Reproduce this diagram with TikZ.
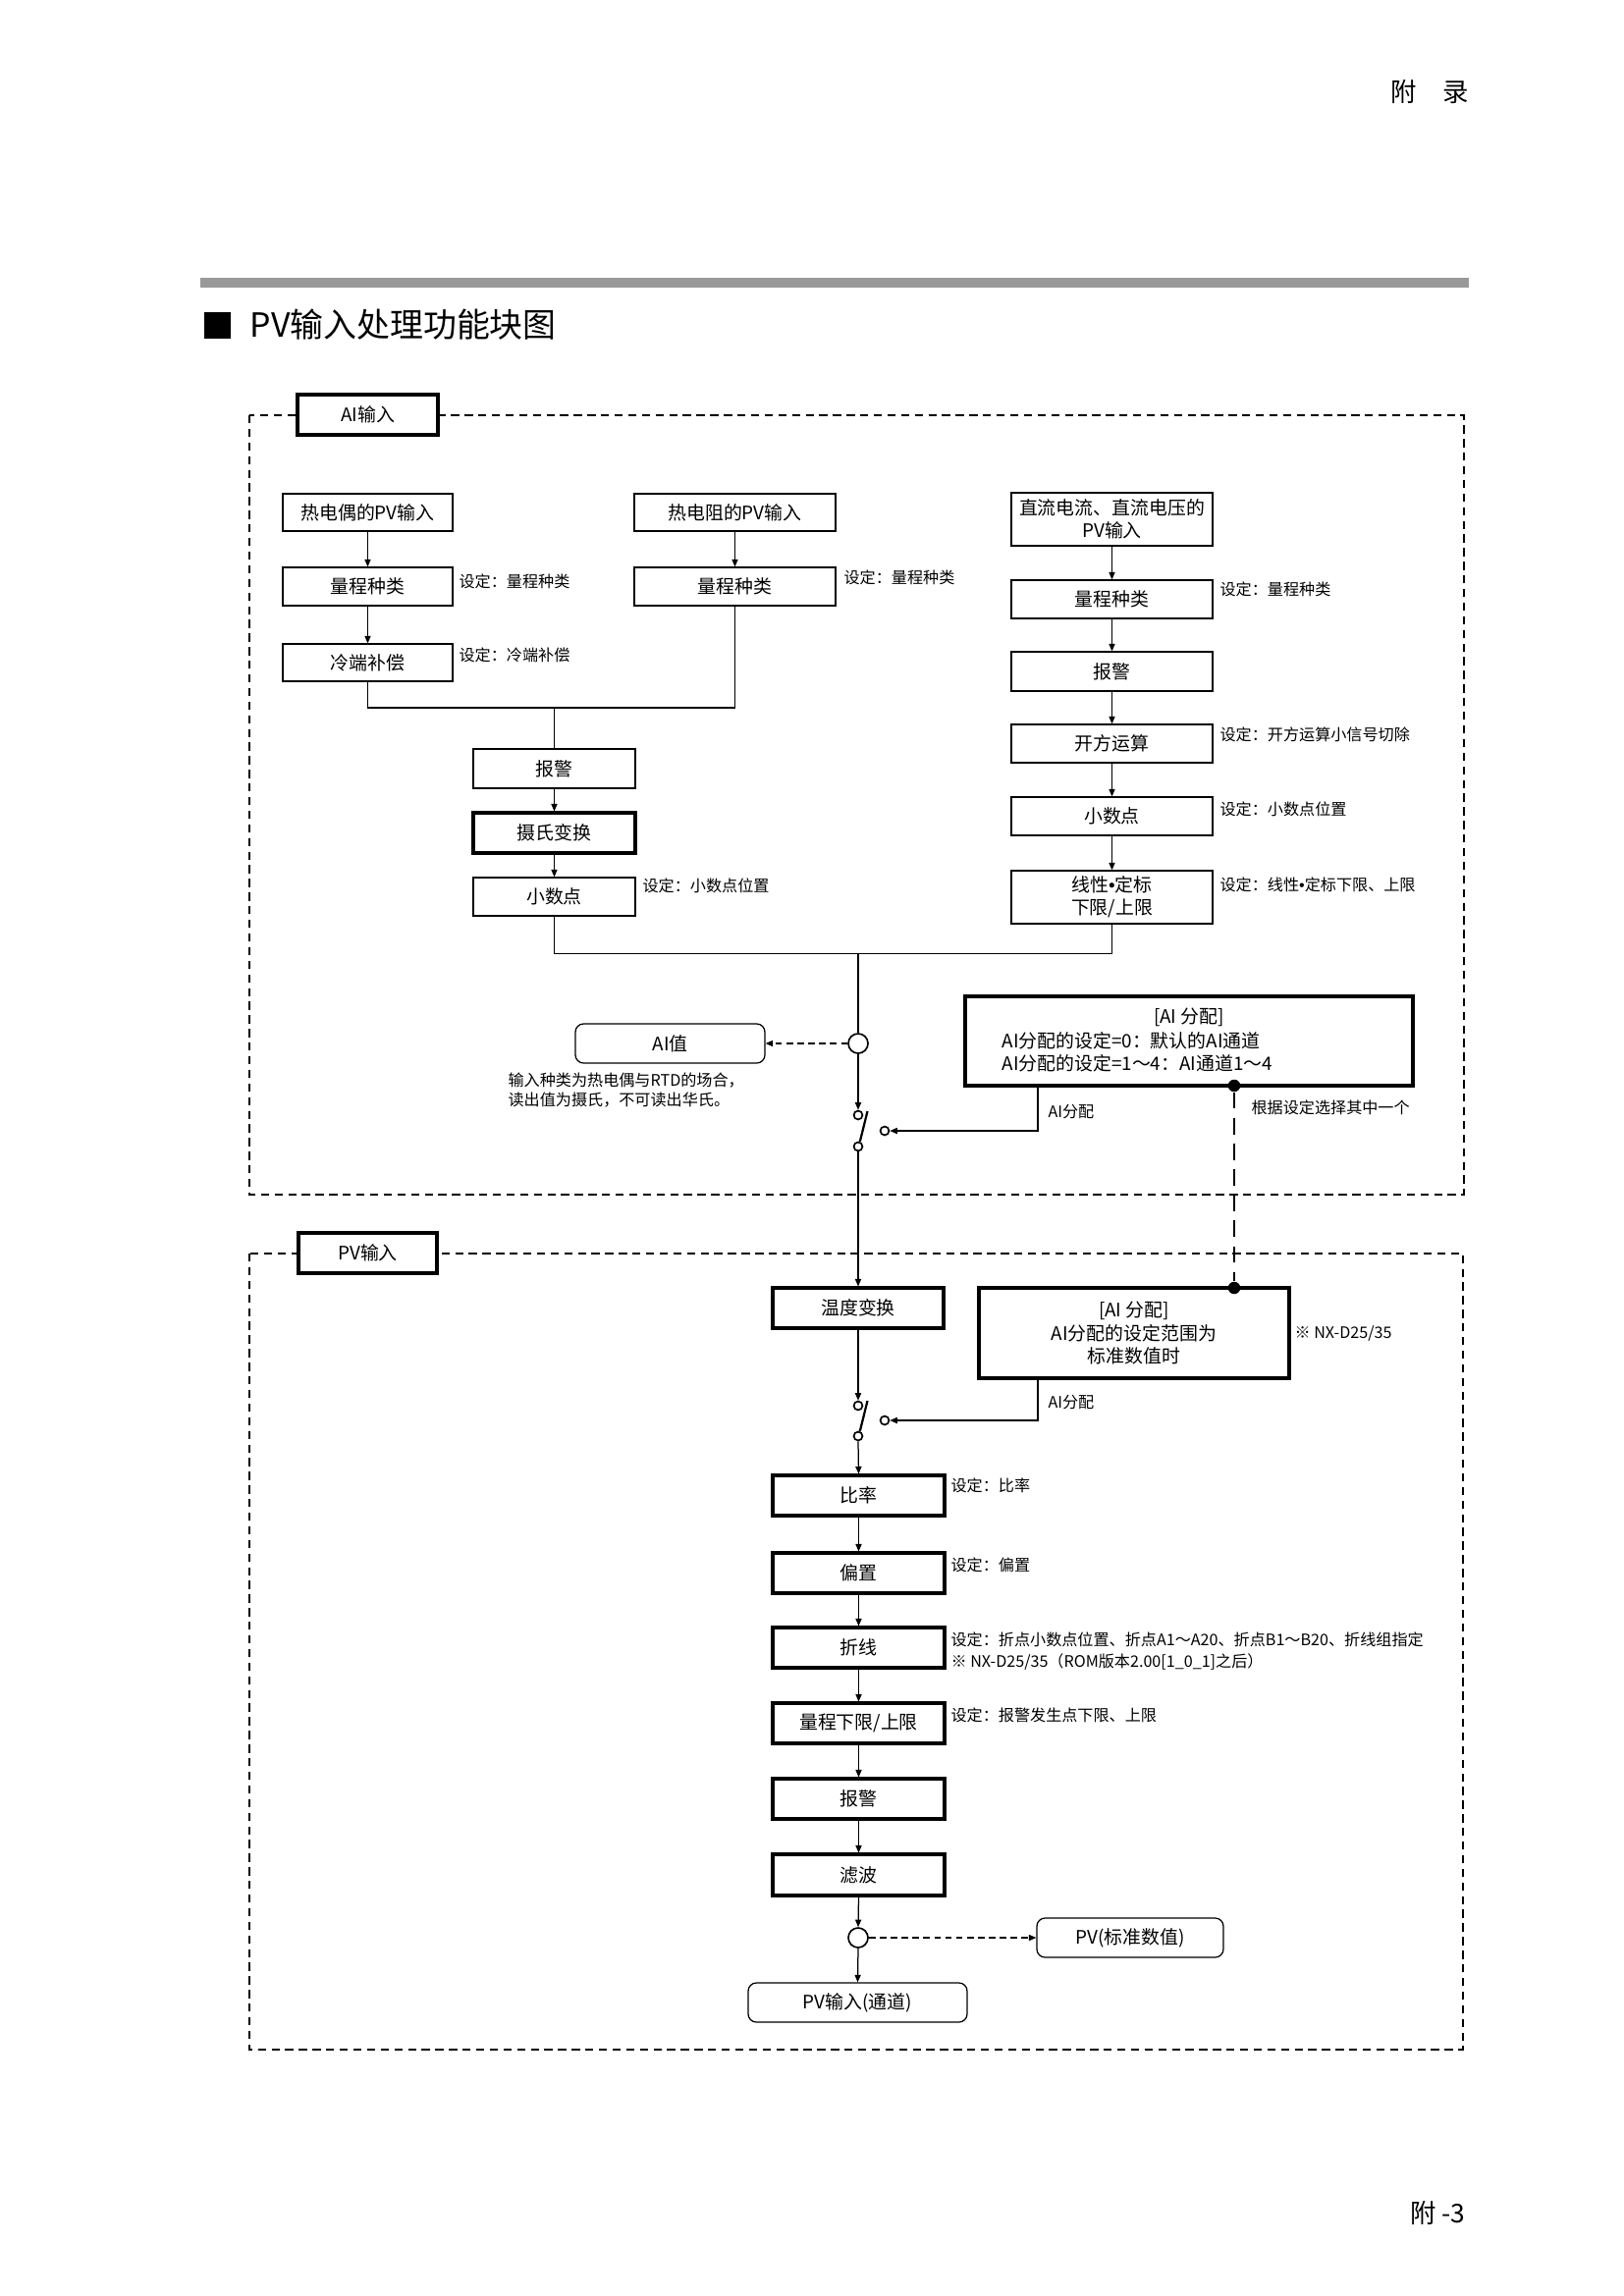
\documentclass[tikz,border=0pt]{standalone}
\usepackage{fontspec}
\setmainfont{Noto Sans CJK SC}
\newfontfamily\latinb{Liberation Sans}
\usetikzlibrary{arrows.meta}
\newcommand{\fsbox}{\fontsize{6.8pt}{8.3pt}\selectfont}
\newcommand{\fslab}{\fontsize{5.8pt}{7.4pt}\selectfont}
\newcommand{\bul}{{\latinb •}}
\newcommand{\mkbox}[7][]{\node[#1, minimum width={(#5-#3)*0.3599pt}, minimum height={(#6-#4)*0.3599pt}] (#2) at ({(#3+#5)/2},{(#4+#6)/2}) {#7};}
\tikzset{
  bx/.style={draw, line width=0.45pt, fill=white, inner sep=0pt, align=center, font=\fsbox},
  tbx/.style={bx, line width=1.1pt},
  rbx/.style={bx, rounded corners=3pt},
  lab/.style={anchor=west, inner sep=0pt, font=\fslab, align=left},
  ln/.style={line width=0.45pt},
  arr/.style={ln, -{Triangle[length=2.7pt,width=2.2pt]}},
  darr/.style={arr, dash pattern=on 2.4pt off 1.6pt},
  framed/.style={line width=0.45pt, dash pattern=on 3pt off 2pt},
  contact/.style={circle, draw, fill=white, line width=0.6pt, minimum size=3.2pt, inner sep=0pt},
  junc/.style={circle, draw, fill=white, line width=0.6pt, minimum size=7.2pt, inner sep=0pt},
  blob/.style={circle, fill, minimum size=4.5pt, inner sep=0pt},
  blade/.style={line width=0.8pt},
  tdash/.style={line width=1pt, dash pattern=on 6pt off 3.4pt}
}
\begin{document}
\begin{tikzpicture}[x=0.3599pt, y=-0.3599pt]
\useasboundingbox (0,0) rectangle (1654,2339);
% header / title
\node[font=\fontsize{9.5pt}{11pt}\selectfont, inner sep=0pt] (hdr) at (1456,94) {附　录};
\fill[black!40] (204,283) rectangle (1496,293);
\fill (208,318) rectangle (235,345);
\node[anchor=west, inner sep=0pt, font=\fontsize{12.2pt}{14pt}\selectfont] (title) at (254,331) {PV输入处理功能块图};
\node[anchor=east, inner sep=0pt, font=\fontsize{9.5pt}{11pt}\selectfont] (ftr) at (1493,2254) {附 -3};
% frames
\draw[framed] (254,423) rectangle (1491,1217);
\draw[framed] (254,1277) rectangle (1490,2088);
\mkbox[tbx]{ailab}{303}{402}{446}{443}{AI输入}
\mkbox[tbx]{pvlab}{304}{1256}{445}{1297}{PV输入}
% left column
\mkbox[bx]{tc}{288}{503}{461}{541}{热电偶的PV输入}
\mkbox[bx]{rL}{288}{578}{461}{617}{量程种类}
\mkbox[bx]{cj}{288}{656}{461}{694}{冷端补偿}
\node[lab] (lrL) at (467,592) {设定：量程种类};
\node[lab] (lcj) at (467,667) {设定：冷端补偿};
% mid column
\mkbox[bx]{rtd}{646}{503}{851}{541}{热电阻的PV输入}
\mkbox[bx]{rM}{646}{578}{851}{617}{量程种类}
\node[lab] (lrM) at (859,588) {设定：量程种类};
% right column
\mkbox[bx]{dc}{1030}{502}{1235}{556}{直流电流、直流电压的\\PV输入}
\mkbox[bx]{rR}{1030}{591}{1235}{630}{量程种类}
\mkbox[bx]{alR}{1030}{664}{1235}{704}{报警}
\mkbox[bx]{sq}{1030}{738}{1235}{777}{开方运算}
\mkbox[bx]{dpR}{1030}{812}{1235}{851}{小数点}
\mkbox[bx]{lin}{1030}{887}{1235}{941}{线性\bul 定标\\下限/上限}
\node[lab] (lrR) at (1242,600) {设定：量程种类};
\node[lab] (lsq) at (1242,748) {设定：开方运算小信号切除};
\node[lab] (ldpR) at (1242,824) {设定：小数点位置};
\node[lab] (llin) at (1242,901) {设定：线性\bul 定标下限、上限};
% centre column
\mkbox[bx]{alC}{482}{763}{647}{803}{报警}
\mkbox[tbx]{cel}{482}{828}{647}{869}{摄氏变换}
\mkbox[bx]{dpC}{482}{894}{647}{933}{小数点}
\node[lab] (ldpC) at (654,902) {设定：小数点位置};
% arrows upper
\draw[arr] (tc.south) -- (rL.north);
\draw[arr] (rL.south) -- (cj.north);
\draw[arr] (rtd.south) -- (rM.north);
\draw[arr] (dc.south) -- (rR.north);
\draw[arr] (rR.south) -- (alR.north);
\draw[arr] (alR.south) -- (sq.north);
\draw[arr] (sq.south) -- (dpR.north);
\draw[arr] (dpR.south) -- (lin.north);
\coordinate (m1) at (564.5,721);
\draw[ln] (cj.south) |- (m1) -| (rM.south);
\draw[ln] (m1) -- (alC.north);
\draw[arr] (alC.south) -- (cel.north);
\draw[arr] (cel.south) -- (dpC.north);
\coordinate (m2) at (874,971.5);
\draw[ln] (dpC.south) |- (m2) -| (lin.south);
% AI value
\node[junc] (j1) at (874,1063) {};
\draw[ln] (m2) -- (j1.north);
\mkbox[rbx]{aiv}{586}{1043}{779}{1083}{AI值}
\draw[darr] (j1.west) -- (aiv.east);
\node[lab] (note) at (517,1110.5) {输入种类为热电偶与RTD的场合，\\读出值为摄氏，不可读出华氏。};
% AI assign box 1
\mkbox[tbx]{ai1}{983}{1015}{1439}{1106}{}
\node[inner sep=0pt, font=\fsbox] (ai1a) at (1211,1036) {[AI 分配]};
\node[inner sep=0pt, font=\fsbox, anchor=west] (ai1b) at (1020,1060) {AI分配的设定=0：默认的AI通道};
\node[inner sep=0pt, font=\fsbox, anchor=west] (ai1c) at (1020,1083) {AI分配的设定=1～4：AI通道1～4};
\node[lab] (sel) at (1274,1128) {根据设定选择其中一个};
% switch 1
\node[contact] (s1a) at (874,1136) {};
\node[contact] (s1b) at (874,1168) {};
\node[contact] (s1c) at (901,1152) {};
\coordinate (s1t) at (883.5,1132);
\draw[arr] (j1.south) -- (s1a.north);
\draw[blade] (s1b.70) -- (s1t);
\coordinate (c1) at (1057,1106);
\draw[arr] (c1) |- (s1c.east);
\node[lab] (lc1) at (1067,1133) {AI分配};
% PV section
\mkbox[tbx]{tcv}{787}{1312}{961}{1353}{温度变换}
\draw[arr] (s1b.south) -- (tcv.north);
\mkbox[tbx]{ai2}{997}{1312}{1313}{1404}{[AI 分配]\\AI分配的设定范围为\\标准数值时}
\node[lab] (nx) at (1318,1359) {※ NX-D25/35};
% dashed link between the two assignment boxes
\node[blob] (d1) at (1257,1106) {};
\node[blob] (d2) at (1257,1312) {};
\draw[tdash] (d1) -- (d2);
% switch 2
\node[contact] (s2a) at (874,1432) {};
\node[contact] (s2b) at (874,1463) {};
\node[contact] (s2c) at (901,1447) {};
\coordinate (s2t) at (883.5,1427);
\draw[arr] (tcv.south) -- (s2a.north);
\draw[blade] (s2b.70) -- (s2t);
\coordinate (c2) at (1057,1404);
\draw[arr] (c2) |- (s2c.east);
\node[lab] (lc2) at (1067,1429) {AI分配};
\mkbox[tbx]{rat}{787}{1503}{962}{1544}{比率}
\mkbox[tbx]{bia}{787}{1582}{962}{1623}{偏置}
\mkbox[tbx]{pol}{787}{1658}{962}{1699}{折线}
\mkbox[tbx]{rng}{787}{1735}{962}{1776}{量程下限/上限}
\mkbox[tbx]{alP}{787}{1812}{962}{1853}{报警}
\mkbox[tbx]{flt}{787}{1889}{962}{1931}{滤波}
\draw[arr] (s2b.south) -- (rat.north);
\draw[arr] (rat.south) -- (bia.north);
\draw[arr] (bia.south) -- (pol.north);
\draw[arr] (pol.south) -- (rng.north);
\draw[arr] (rng.south) -- (alP.north);
\draw[arr] (alP.south) -- (flt.north);
\node[lab] (lrat) at (968,1513) {设定：比率};
\node[lab] (lbia) at (968,1594) {设定：偏置};
\node[lab] (lpol) at (968,1670) {设定：折点小数点位置、折点A1～A20、折点B1～B20、折线组指定};
\node[lab] (lpol2) at (968,1693) {※ NX-D25/35（ROM版本2.00[1\_0\_1]之后）};
\node[lab] (lrng) at (968,1747) {设定：报警发生点下限、上限};
\node[junc] (j2) at (874,1974) {};
\draw[arr] (flt.south) -- (j2.north);
\mkbox[rbx]{pvs}{1056}{1954}{1246}{1994}{PV(标准数值)}
\mkbox[rbx]{pvc}{762}{2020}{985}{2060}{PV输入(通道)}
\draw[darr] (j2.east) -- (pvs.west);
\draw[arr] (j2.south) -- (pvc.north);
\end{tikzpicture}
\end{document}
